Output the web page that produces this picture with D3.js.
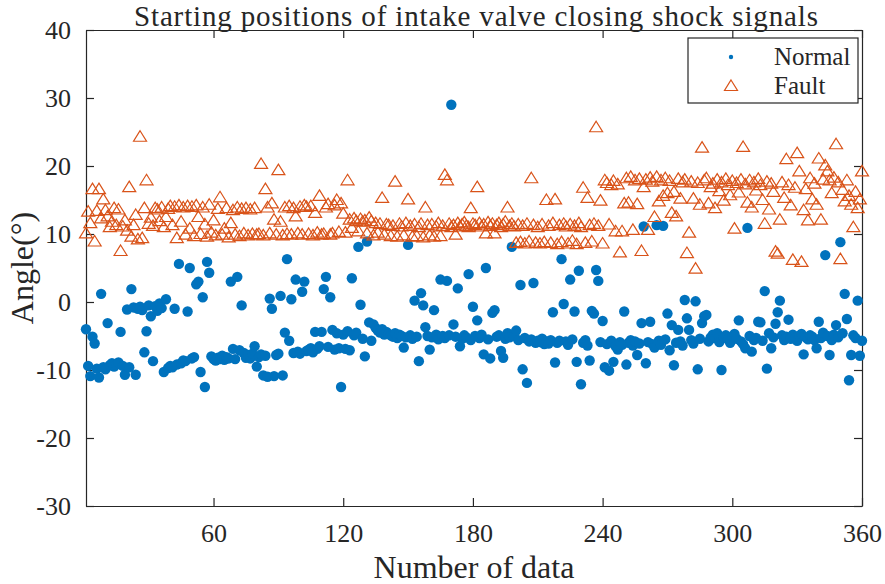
<!DOCTYPE html>
<html>
<head>
<meta charset="utf-8">
<script src="https://cdn.jsdelivr.net/npm/d3@7/dist/d3.min.js"></script>
<style>
  body { margin: 0; background: #fff; }
  text { font-family: "Liberation Serif", "Times New Roman", serif; fill: #262626; }
</style>
</head>
<body>
<svg id="chart" width="885" height="584"></svg>
<script>
// Starting angle of each record (index 1..360)
const normalAngles = [
  -4.0,-9.4,-10.9,-5.1,-6.1,-9.8,-11.1,1.2,-9.6,-9.9,
  -3.1,-9.3,-9.0,-9.5,-9.2,-8.9,-4.4,-9.4,-10.7,-1.1,
  -9.6,1.9,-0.8,-10.7,-1.0,-0.7,-1.2,-7.4,-4.3,-0.5,
  -2.1,-8.7,-0.6,-1.3,-0.2,-0.9,-10.3,0.4,-9.7,-9.4,
  -9.6,-1.0,-9.2,5.6,-9.0,-8.6,-8.7,-1.4,5.0,-8.3,
  -8.1,2.6,3.0,-10.3,0.7,-12.5,5.9,4.3,-8.0,-8.4,
  -8.6,-8.2,-8.4,-7.9,-8.5,-8.1,-8.3,3.0,-6.9,-8.4,
  3.7,-7.1,-0.5,-7.5,-8.2,-7.8,-8.3,-7.6,-6.5,-9.5,
  -8.1,-7.7,-10.8,-7.9,-11.0,0.5,-1.0,-10.9,-7.8,-7.6,
  0.9,-10.8,-4.5,6.3,-5.7,0.4,-7.5,3.3,-7.3,-7.6,
  1.5,3.0,-7.2,-7.0,-6.8,-7.4,-4.4,-6.9,-6.5,-4.4,
  1.9,3.7,-6.6,0.7,-4.1,-7.0,-4.6,-6.8,-12.5,-4.8,
  -6.9,-4.3,-7.1,3.5,-4.9,-4.5,8.1,-0.4,-5.4,-8.0,
  8.9,-3.0,-5.7,-3.3,-3.8,-4.2,-4.5,-4.0,-4.8,-4.4,
  -4.7,-4.9,-5.1,-4.6,-5.3,-4.8,-5.0,-6.7,-5.2,8.4,
  -4.9,-5.4,0.2,-5.1,-8.7,1.3,-0.5,-3.7,-5.0,-7.0,
  -5.2,-1.2,-4.8,-5.5,3.3,-5.0,-5.3,3.1,-4.9,29.0,
  -3.3,-5.1,2.0,-6.5,-5.4,-4.9,-5.2,4.1,-5.6,-0.7,
  -5.0,-2.7,-5.3,-4.8,-7.7,5.0,-5.5,-8.3,-1.6,-1.2,
  -5.1,-4.9,-7.2,-8.2,-5.4,-4.6,-5.2,8.1,-5.0,-4.2,
  -5.6,2.5,-9.9,-5.3,-11.9,-5.8,-5.5,2.8,-6.0,-5.7,
  -5.9,-5.4,-6.2,-5.8,-6.1,-5.6,-1.5,-8.9,-6.0,-5.7,
  6.3,-0.3,-5.8,-6.3,3.3,-5.5,-1.4,-8.8,4.6,-12.1,
  -6.0,-5.6,-6.4,-8.6,-1.3,-1.7,4.7,3.1,-5.9,-2.8,
  -9.6,-6.2,-10.1,-5.7,-8.8,-6.5,-7.0,-5.9,-6.3,-1.4,
  -9.2,-6.0,-5.6,-6.4,-5.8,-7.8,-6.1,-3.1,11.1,-9.0,
  -5.9,-2.9,-6.2,-6.7,11.3,-5.7,-6.3,11.2,-5.5,-1.7,
  -7.1,-3.4,-9.3,-6.0,-4.1,-5.8,-6.4,0.3,-2.4,-4.1,
  -5.6,-6.1,0.1,-9.9,-5.4,-3.1,-2.1,-1.9,-5.8,-5.2,
  -4.8,-5.3,-4.6,-5.9,-10.0,-5.2,-4.9,-5.5,-6.0,-5.1,
  -4.7,-5.4,-2.7,-5.8,-6.2,-6.8,10.9,-5.0,-7.3,-5.6,
  -5.3,-2.9,-3.0,-5.7,1.6,-9.8,-4.6,-6.8,-5.2,-3.2,
  -1.5,0.2,-4.9,-5.6,-5.1,-2.6,-5.4,-4.8,-5.3,-5.7,
  -5.0,-4.7,-7.7,-5.2,-5.5,-4.9,-5.1,-5.6,-6.8,-2.9,
  -5.3,-4.5,6.9,-5.0,-7.8,-5.6,-4.8,-3.4,-5.2,8.8,
  -4.6,1.2,-2.5,-11.5,-7.8,-4.9,-5.3,0.2,-7.9,-5.7
];

const faultAngles = [
  10.1,13.3,11.6,16.6,8.9,13.4,16.6,12.3,15.1,13.5,
  12.6,11.0,11.8,13.8,11.3,13.6,7.5,11.1,12.0,10.5,
  16.9,9.6,11.3,12.8,9.2,24.3,9.4,13.8,17.9,11.5,
  12.4,11.2,13.8,13.6,11.9,13.9,11.0,12.5,13.7,14.1,
  11.3,14.0,9.4,14.2,11.8,13.9,9.9,14.1,10.8,14.0,
  9.7,14.2,12.5,10.0,13.9,11.4,9.6,14.3,10.2,12.0,
  9.8,13.7,15.4,9.9,10.8,13.8,9.5,11.6,13.5,9.9,
  13.9,9.7,13.7,10.1,13.8,9.8,13.6,10.0,13.8,9.9,
  10.0,20.3,9.8,16.6,13.9,10.1,14.5,12.1,9.9,19.4,
  11.8,9.8,13.9,10.0,14.1,9.9,13.8,12.6,10.1,14.0,
  9.9,14.2,14.0,10.0,14.1,9.8,13.1,10.2,15.6,9.9,
  10.0,13.9,14.4,9.9,10.1,14.2,15.0,10.3,14.5,13.0,
  10.2,17.9,12.1,10.9,12.3,11.9,10.4,12.2,11.8,12.0,
  10.1,12.4,11.9,9.8,11.6,10.2,11.5,15.3,9.9,11.4,
  11.3,9.7,11.2,17.7,9.6,11.5,11.1,9.8,11.6,15.1,
  11.2,9.6,11.4,9.7,11.0,11.5,9.5,13.9,11.3,9.8,
  11.4,9.6,11.1,11.6,9.7,11.2,18.7,17.9,11.5,11.0,
  11.3,9.9,11.6,11.1,11.4,11.7,11.2,11.0,13.8,11.5,
  11.3,16.9,11.6,11.1,11.4,10.1,11.7,11.2,11.5,10.1,
  11.3,11.6,11.0,11.4,11.8,13.9,11.2,11.5,11.1,8.7,
  11.4,8.8,11.2,8.6,11.5,8.9,18.2,11.3,8.7,11.0,
  8.6,11.4,8.8,15.0,11.2,8.7,11.6,15.1,8.5,11.3,
  8.8,11.5,11.1,8.6,11.4,9.0,11.2,8.5,11.6,11.0,
  16.8,8.7,15.3,11.3,8.9,11.5,25.7,11.2,14.9,8.6,
  17.9,17.5,11.4,17.2,17.8,10.4,17.3,7.3,10.4,14.5,
  18.2,14.6,18.4,10.6,17.9,14.4,18.1,7.5,16.9,18.0,
  10.6,18.3,17.7,12.5,18.4,14.8,17.9,15.6,18.2,16.0,
  17.8,13.1,16.2,12.6,18.1,15.2,17.6,18.0,7.2,10.2,
  17.7,15.2,4.9,17.5,14.3,22.7,17.9,18.2,14.5,16.9,
  17.4,13.8,18.0,16.3,17.6,14.9,18.1,17.2,15.7,17.8,
  10.8,17.5,16.1,18.0,22.8,17.3,14.6,17.9,13.9,17.6,
  16.4,18.1,17.2,15.0,11.5,17.7,13.6,17.4,16.2,7.4,
  7.1,12.1,17.6,15.3,21.0,17.2,14.2,6.2,16.8,21.9,
  19.2,5.9,13.5,16.6,12.0,18.2,15.1,17.4,14.3,21.1,
  12.1,18.0,20.1,19.2,17.9,16.0,18.3,23.2,17.6,6.3,
  16.5,14.8,17.9,15.6,14.3,11.0,16.2,13.8,15.1,19.2
];

const xTicks = [60, 120, 180, 240, 300, 360];
const yTicks = [-30, -20, -10, 0, 10, 20, 30, 40];
const seriesNames = ["Normal", "Fault"];

const blue = "#0072BD", orange = "#D95319", axisColor = "#262626";

const svg = d3.select("#chart"),
    margin = { top: 30, right: 23, bottom: 78, left: 86 },
    width = +svg.attr("width") - margin.left - margin.right,
    height = +svg.attr("height") - margin.top - margin.bottom;

const g = svg.append("g")
    .attr("transform", "translate(" + margin.left + "," + margin.top + ")");

const xScale = d3.scaleLinear().domain([1, 360]).range([0, width]);
const yScale = d3.scaleLinear().domain([-30, 40]).range([height, 0]);

const fmt = d => String(d);

// axes with inward ticks on all four sides (MATLAB box style)
const styleAxis = sel => {
    sel.selectAll("path.domain").attr("stroke", axisColor).attr("stroke-width", 1.2);
    sel.selectAll(".tick line").attr("stroke", axisColor).attr("stroke-width", 1.2);
    sel.selectAll("text").style("font-size", "26px").attr("fill", axisColor)
        .style("font-family", '"Liberation Serif", "Times New Roman", serif');
};

g.append("g")
    .attr("transform", "translate(0," + height + ")")
    .call(d3.axisBottom(xScale).tickValues(xTicks).tickFormat(fmt)
        .tickSizeInner(-8).tickSizeOuter(0).tickPadding(18))
    .call(styleAxis);

g.append("g")
    .call(d3.axisTop(xScale).tickValues(xTicks).tickFormat("")
        .tickSizeInner(-8).tickSizeOuter(0))
    .call(styleAxis);

g.append("g")
    .call(d3.axisLeft(yScale).tickValues(yTicks).tickFormat(fmt)
        .tickSizeInner(-8).tickSizeOuter(0).tickPadding(15))
    .call(styleAxis);

g.append("g")
    .attr("transform", "translate(" + width + ",0)")
    .call(d3.axisRight(yScale).tickValues(yTicks).tickFormat("")
        .tickSizeInner(-8).tickSizeOuter(0))
    .call(styleAxis);

// points
const triangle = "M0,-6 L6.5,4.5 L-6.5,4.5 Z";

g.append("g").selectAll("circle")
    .data(normalAngles)
    .enter()
    .append("circle")
    .attr("cx", (d, i) => xScale(i + 1))
    .attr("cy", d => yScale(d))
    .attr("r", 5.2)
    .style("fill", blue);

g.append("g").selectAll("path")
    .data(faultAngles)
    .enter()
    .append("path")
    .attr("d", triangle)
    .attr("transform", (d, i) => "translate(" + xScale(i + 1) + "," + yScale(d) + ")")
    .style("fill", "none")
    .style("stroke", orange)
    .style("stroke-width", 1.2);

// title and labels
svg.append("text")
    .attr("x", margin.left + width / 2 + 2)
    .attr("y", 26)
    .attr("text-anchor", "middle")
    .attr("textLength", 684)
    .attr("lengthAdjust", "spacing")
    .style("font-size", "29px")
    .text("Starting positions of intake valve closing shock signals");

svg.append("text")
    .attr("x", margin.left + width / 2)
    .attr("y", 578)
    .attr("text-anchor", "middle")
    .style("font-size", "32px")
    .text("Number of data");

svg.append("text")
    .attr("transform", "translate(33," + (margin.top + height / 2) + ") rotate(-90)")
    .attr("text-anchor", "middle")
    .style("font-size", "32px")
    .text("Angle(°)");

// legend
const legend = svg.append("g").attr("transform", "translate(688,38)");
legend.append("rect")
    .attr("width", 170).attr("height", 65)
    .style("fill", "#fff").style("stroke", axisColor).style("stroke-width", 1.2);

legend.append("circle").attr("cx", 43).attr("cy", 19).attr("r", 2.2).style("fill", blue);
legend.append("path").attr("d", triangle)
    .attr("transform", "translate(43,48)")
    .style("fill", "none").style("stroke", orange).style("stroke-width", 1.2);

legend.selectAll("text.lbl")
    .data(seriesNames)
    .enter()
    .append("text")
    .attr("class", "lbl")
    .attr("x", 86)
    .attr("y", (d, i) => 27 + i * 29)
    .style("font-size", "25px")
    .text(d => d);
</script>
</body>
</html>
